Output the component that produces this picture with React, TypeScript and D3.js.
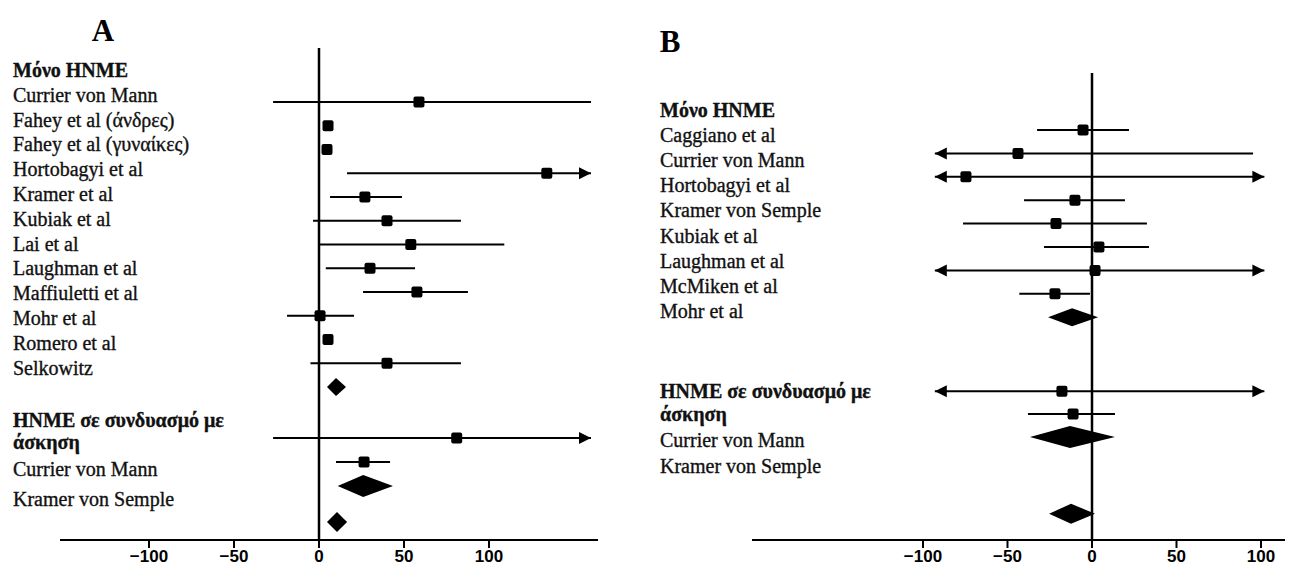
import React from 'react';
import * as d3 from 'd3';

const W = 1291;
const H = 573;

// ---- Panel A data (effect sizes) ----
const headingA = "Μόνο HNME";
const studiesA = [
  "Currier von Mann", "Fahey et al  (άνδρες)", "Fahey et al  (γυναίκες)", "Hortobagyi et al",
  "Kramer et al", "Kubiak et al", "Lai et al", "Laughman et al", "Maffiuletti et al",
  "Mohr et al", "Romero  et al", "Selkowitz",
];
const comboHeadingA = ["HNME σε  συνδυασμό με", "άσκηση"];
const comboStudiesA = ["Currier von Mann", "Kramer von Semple"];
const estA = [58.8, 5.3, 4.7, 134, 27, 40, 54, 30, 57.6, 0.6, 5.3, 40];
const loA = [-27, 3, 3, 16.5, 6.5, -3.5, -0.6, 4, 25.9, -18.8, 3, -5];
const hiA = [160, 7, 7, 210, 48.8, 83.5, 109, 56.5, 87.6, 20.6, 7, 83.5];
const pooledA = [10, 4.7, 15.9];
const comboEstA = [81, 26.5];
const comboLoA = [-27, 10];
const comboHiA = [210, 41.8];
const comboPooledA = [26, 11, 43.5];
const overallA = [10.6, 4.7, 16.5];

// ---- Panel B data ----
const headingB = "Μόνο HNME";
const studiesB = [
  "Caggiano et al", "Currier von Mann", "Hortobagyi et al", "Kramer von Semple",
  "Kubiak et al", "Laughman et al", "McMiken et al", "Mohr et al",
];
const comboHeadingB = ["HNME σε  συνδυασμό με", "άσκηση"];
const comboStudiesB = ["Currier von Mann", "Kramer von Semple"];
const estB = [-5.3, -43.8, -74.6, -10.1, -21.3, 4.1, 1.8, -21.9];
const loB = [-32.5, -150, -150, -40.2, -76.3, -28.4, -150, -43];
const hiB = [21.9, 95.3, 150, 19.5, 32.5, 33.7, 150, -1.2];
const pooledB = [-11.8, -26, 3.6];
const comboEstB = [-17.8, -11.2];
const comboLoB = [-150, -37.9];
const comboHiB = [150, 13.6];
const comboPooledB = [-13, -36.7, 13.6];
const overallB = [-12.4, -25.4, 1.8];

const ticks = [-100, -50, 0, 50, 100];

const serif = '"Liberation Serif", "DejaVu Serif", serif';
const sans = '"Liberation Sans", Arial, sans-serif';

function Arrow({ x, y, dir }) {
  const len = 12, half = 6;
  const pts = [[x, y], [x - dir * len, y - half], [x - dir * len, y + half]];
  return <polygon points={pts.map(p => p.join(',')).join(' ')} fill="#000" />;
}

function CIRow({ x, y, est, lo, hi, clip, size }) {
  const a = Math.max(lo, clip[0]);
  const b = Math.min(hi, clip[1]);
  return (
    <g>
      <line x1={x(a)} x2={x(b)} y1={y} y2={y} stroke="#000" strokeWidth={2} />
      {lo < clip[0] && <Arrow x={x(clip[0])} y={y} dir={-1} />}
      {hi > clip[1] && <Arrow x={x(clip[1])} y={y} dir={1} />}
      <rect x={x(est) - size / 2} y={y - size / 2} width={size} height={size} rx={2} fill="#000" />
    </g>
  );
}

function Diamond({ x, y, d, h }) {
  const [c, lo, hi] = d;
  const pts = [[x(lo), y], [x(c), y - h], [x(hi), y], [x(c), y + h]];
  return <polygon points={pts.map(p => p.join(',')).join(' ')} fill="#000" />;
}

function Panel({ cfg }) {
  const x = d3.scaleLinear().domain([-100, 100]).range(cfg.xRange);
  const yRow = d3.scaleLinear().domain([0, 1]).range([cfg.rowY0, cfg.rowY0 + cfg.rowStep]);
  const yLab = d3.scaleLinear().domain([0, 1]).range([cfg.labY0, cfg.labY0 + cfg.labStep]);
  const axisY = 540;
  const fs = 20;
  const txt = { fontFamily: serif, fontSize: fs, fill: '#111', stroke: '#111', strokeWidth: 0.35 };
  return (
    <g>
      <text x={cfg.titleX} y={cfg.titleY} fontFamily={serif} fontSize={31} fontWeight="bold" textAnchor="middle">{cfg.title}</text>
      {/* labels */}
      <text x={cfg.labX} y={yLab(0)} dy="0.35em" {...txt} fontWeight="bold">{cfg.heading}</text>
      {cfg.studies.map((s, i) => (
        <text key={'s' + i} x={cfg.labX} y={yLab(i + 1)} dy="0.35em" {...txt}>{s}</text>
      ))}
      {cfg.comboHeading.map((s, i) => (
        <text key={'h' + i} x={cfg.labX} y={yLab(cfg.comboLabRows[i])} dy="0.35em" {...txt} fontWeight="bold">{s}</text>
      ))}
      {cfg.comboStudies.map((s, i) => (
        <text key={'c' + i} x={cfg.labX} y={yLab(cfg.comboLabRows[i + 2])} dy="0.35em" {...txt}>{s}</text>
      ))}
      {/* zero line and axis */}
      <line x1={x(0)} x2={x(0)} y1={cfg.zeroTop} y2={axisY} stroke="#000" strokeWidth={2.5} />
      <line x1={cfg.axisX[0]} x2={cfg.axisX[1]} y1={axisY} y2={axisY} stroke="#000" strokeWidth={2} />
      {ticks.map(t => (
        <g key={t}>
          <line x1={x(t)} x2={x(t)} y1={axisY} y2={axisY + 8} stroke="#000" strokeWidth={2} />
          <text x={x(t)} y={axisY + 16} dy="0.35em" textAnchor="middle" fontFamily={sans} fontSize={17} fontWeight="bold">{t < 0 ? '−' + Math.abs(t) : t}</text>
        </g>
      ))}
      {/* study CIs */}
      {cfg.est.map((e, i) => (
        <CIRow key={'r' + i} x={x} y={yRow(i)} est={e} lo={cfg.lo[i]} hi={cfg.hi[i]} clip={cfg.clip} size={cfg.sq} />
      ))}
      <Diamond x={x} y={yRow(cfg.est.length)} d={cfg.pooled} h={9} />
      {cfg.comboEst.map((e, i) => (
        <CIRow key={'k' + i} x={x} y={yRow(cfg.comboRows[i])} est={e} lo={cfg.comboLo[i]} hi={cfg.comboHi[i]} clip={cfg.clip} size={cfg.sq} />
      ))}
      <Diamond x={x} y={yRow(cfg.comboRows[2])} d={cfg.comboPooled} h={11} />
      <Diamond x={x} y={yRow(cfg.comboRows[3])} d={cfg.overall} h={10} />
    </g>
  );
}

const panelA = {
  title: 'A', titleX: 103, titleY: 41,
  heading: headingA, studies: studiesA, comboHeading: comboHeadingA, comboStudies: comboStudiesA,
  est: estA, lo: loA, hi: hiA, pooled: pooledA,
  comboEst: comboEstA, comboLo: comboLoA, comboHi: comboHiA, comboPooled: comboPooledA, overall: overallA,
  xRange: [149, 489], axisX: [60, 598], clip: [-152, 160], zeroTop: 48,
  rowY0: 102, rowStep: 23.75, comboRows: [14.15, 15.16, 16.17, 17.68],
  labX: 13, labY0: 70, labStep: 24.8, comboLabRows: [14.1, 15.0, 16.1, 17.3],
  sq: 11,
};

const panelB = {
  title: 'B', titleX: 670, titleY: 52,
  heading: headingB, studies: studiesB, comboHeading: comboHeadingB, comboStudies: comboStudiesB,
  est: estB, lo: loB, hi: hiB, pooled: pooledB,
  comboEst: comboEstB, comboLo: comboLoB, comboHi: comboHiB, comboPooled: comboPooledB, overall: overallB,
  xRange: [923, 1261], axisX: [752, 1285], clip: [-93, 102], zeroTop: 73,
  rowY0: 130, rowStep: 23.4, comboRows: [11.16, 12.14, 13.12, 16.4],
  labX: 660, labY0: 110, labStep: 25.1, comboLabRows: [11.2, 12.1, 13.15, 14.2],
  sq: 11,
};

export default function App() {
  return (
    <svg width={W} height={H} style={{ position: 'absolute', left: 0, top: 0, background: '#fff' }}>
      <Panel cfg={panelA} />
      <Panel cfg={panelB} />
    </svg>
  );
}
